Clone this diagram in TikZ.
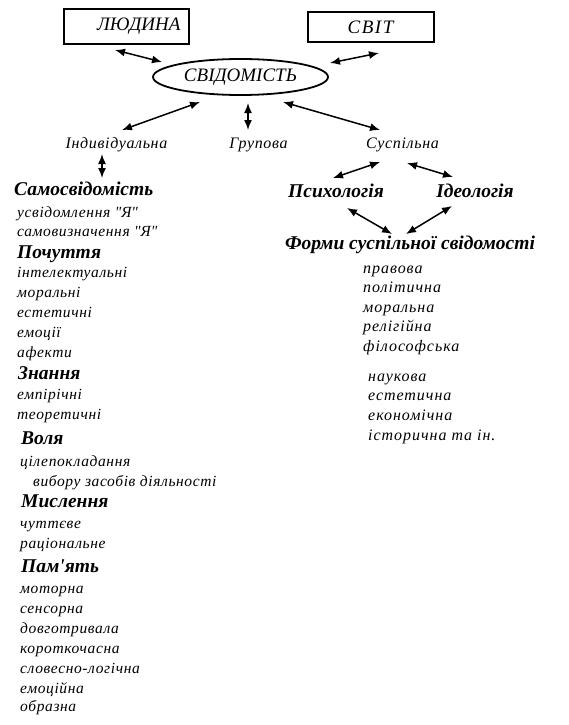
\documentclass[tikz,border=0pt]{standalone}
\usepackage{fontspec}
\setmainfont{Liberation Serif}
\usetikzlibrary{arrows.meta,shapes.geometric}
\begin{document}
\begin{tikzpicture}[x=1pt,y=-1pt,
  item/.style={anchor=west,inner sep=0pt,font=\itshape\fontsize{15.5}{15.5}\selectfont\addfontfeature{LetterSpace=4},text height=11pt,text depth=4pt},
  ritem/.style={anchor=west,inner sep=0pt,font=\itshape\fontsize{16}{16}\selectfont\addfontfeature{LetterSpace=6},text height=11pt,text depth=4pt},
  head/.style={anchor=west,inner sep=0pt,font=\bfseries\itshape\fontsize{19.5}{19.5}\selectfont,text height=13pt,text depth=5pt},
  mid/.style={inner sep=0pt,font=\itshape\fontsize{16}{16}\selectfont\addfontfeature{LetterSpace=4},text height=11pt,text depth=4pt},
  heading/.style={inner sep=0pt,font=\bfseries\itshape\fontsize{19.5}{19.5}\selectfont,text height=13pt,text depth=5pt},
  box/.style={draw,line width=2pt,inner sep=0pt,font=\itshape\fontsize{19}{19}\selectfont},
  arr/.style={{Latex[length=10pt,width=8pt]}-{Latex[length=10pt,width=8pt]},line width=1.5pt}]
\useasboundingbox[fill=white] (0,0) rectangle (568,725);

% top boxes
\node[box,minimum width=125pt,minimum height=35pt,text width=108pt,align=right] (lyud) at (126.5,26.5) {ЛЮДИНА};
\node[box,minimum width=126pt,minimum height=30pt,align=center] (svit) at (370.5,27) {\addfontfeature{LetterSpace=8}СВІТ};
\node[draw,ellipse,line width=1.8pt,minimum width=175pt,minimum height=36pt,inner sep=0pt,font=\itshape\fontsize{19}{19}\selectfont] (ell) at (240.5,77) {СВІДОМІСТЬ};

% second level
\node[mid] (ind) at (116.5,145) {Індивідуальна};
\node[mid] (grup) at (258.5,145) {Групова};
\node[mid] (susp) at (402.5,145) {Суспільна};

% right branch
\node[heading] (psych) at (336,193) {Психологія};
\node[heading] (ideo) at (475,193) {Ідеологія};
\node[heading] (forms) at (410,245) {Форми суспільної свідомості};

\node[ritem] (f1) at (363,270) {правова};
\node[ritem] (f2) at (363,289) {політична};
\node[ritem] (f3) at (363,309) {моральна};
\node[ritem] (f4) at (363,328) {релігійна};
\node[ritem] (f5) at (363,348) {філософська};
\node[ritem] (f6) at (368,378) {наукова};
\node[ritem] (f7) at (368,397) {естетична};
\node[ritem] (f8) at (368,417) {економічна};
\node[ritem] (f9) at (368,437) {історична та ін.};

% left column
\node[head] (samos) at (14,191) {Самосвідомість};
\node[item] (l1) at (17,214) {усвідомлення \textquotedbl Я\textquotedbl};
\node[item] (l2) at (17,233) {самовизначення \textquotedbl Я\textquotedbl};
\node[head] (poch) at (17,254) {Почуття};
\node[item] (l3) at (17,274) {інтелектуальні};
\node[item] (l4) at (17,294) {моральні};
\node[item] (l5) at (17,314) {естетичні};
\node[item] (l6) at (17,334) {емоції};
\node[item] (l7) at (17,354) {афекти};
\node[head] (znan) at (18,375) {Знання};
\node[item] (l8) at (17,396) {емпірічні};
\node[item] (l9) at (17,416) {теоретичні};
\node[head] (volia) at (21,440) {Воля};
\node[item] (l10) at (20,463) {цілепокладання};
\node[item] (l11) at (33,483) {вибору засобів діяльності};
\node[head] (mysl) at (21,503) {Мислення};
\node[item] (l12) at (20,525) {чуттєве};
\node[item] (l13) at (20,545) {раціональне};
\node[head] (pam) at (21,568) {Пам\textquotesingle ять};
\node[item] (l14) at (20,590) {моторна};
\node[item] (l15) at (20,610) {сенсорна};
\node[item] (l16) at (20,630) {довготривала};
\node[item] (l17) at (20,650) {короткочасна};
\node[item] (l18) at (20,670) {словесно-логічна};
\node[item] (l19) at (20,690) {емоційна};
\node[item] (l20) at (20,708) {образна};

% connectors
\draw[arr] ([shift={(-11.5,23.5)}]lyud.center) -- ([shift={(-78.5,-15)}]ell.center);
\draw[arr] ([shift={(8.5,26)}]svit.center) -- ([shift={(89.5,-14)}]ell.center);
\draw[arr] ([shift={(-40.5,25)}]ell.center) -- ([shift={(5.5,-15)}]ind.center);
\draw[arr] ([shift={(7.5,26)}]ell.center) -- ([shift={(-10.5,-15)}]grup.center);
\draw[arr] ([shift={(42.5,25)}]ell.center) -- ([shift={(-22.5,-15)}]susp.center);
\draw[arr] ([shift={(-14.5,9)}]ind.center) -- ([shift={(88,-13)}]samos.west);
\draw[arr] ([shift={(-22.5,17)}]susp.center) -- ([shift={(-3,-15)}]psych.center);
\draw[arr] ([shift={(4.5,18)}]susp.center) -- ([shift={(-22,-16)}]ideo.center);
\draw[arr] ([shift={(11,15)}]psych.center) -- ([shift={(-18,-11)}]forms.center);
\draw[arr] ([shift={(-23,13)}]ideo.center) -- ([shift={(-4,-11)}]forms.center);
\end{tikzpicture}
\end{document}
